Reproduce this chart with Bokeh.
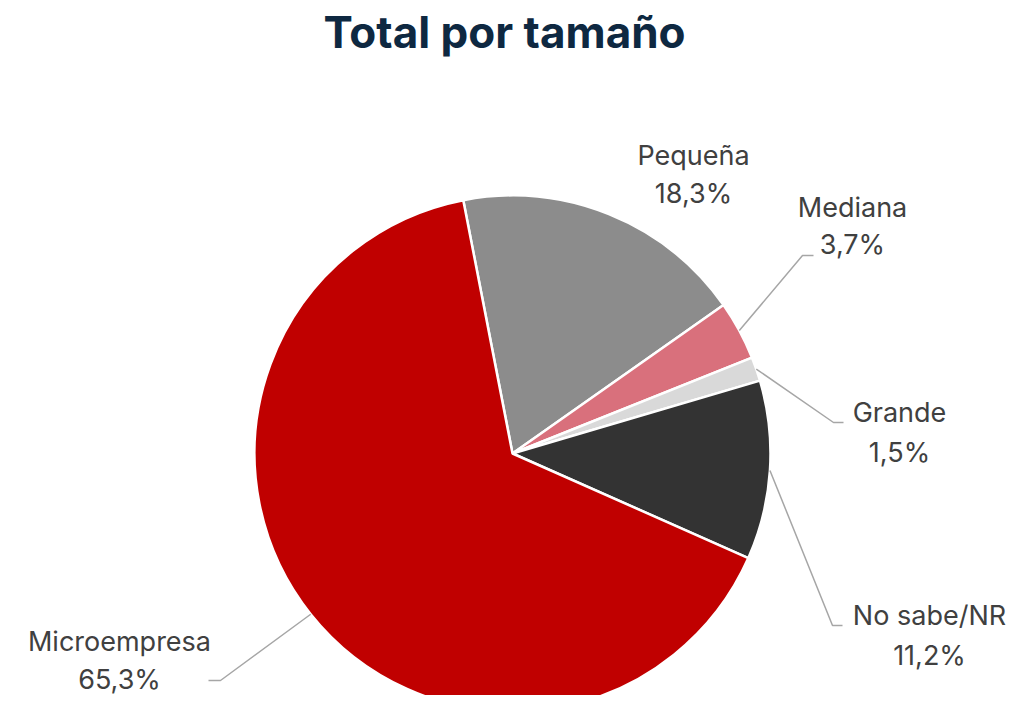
import math
from bokeh.plotting import figure
from bokeh.models import Range1d
from bokeh.core.properties import value
from bokeh.embed import file_html
from bokeh.resources import INLINE

# ---- data ----
categories = ["Pequeña", "Mediana", "Grande", "No sabe/NR", "Microempresa"]
shares = [18.3, 3.7, 1.5, 11.2, 65.3]
colors = ["#8c8c8c", "#d9707c", "#d9d9d9", "#333333", "#c00000"]
title_text = "Total por tamaño"

# ---- layout (screen-pixel coordinates, converted below) ----
W, H = 1011, 695
CX, CY, R = 512, 453, 258
START_CW = -11.0  # degrees clockwise from 12 o'clock
# label centre (x, y of first line, y of second line) and leader elbow / end points
label_pos = [(693, 155, 193), (852, 207, 244), (899, 412, 452), (929, 615, 655), (119, 641, 679)]
leaders = [None, ((802, 255), (813, 255)), ((833, 422), (843, 422)),
           ((832, 625), (842, 625)), ((220, 680), (208, 680))]


def sy(y):
    return 711 - y


p = figure(width=W, height=H, output_backend="svg", toolbar_location=None,
           x_range=Range1d(0, W), y_range=Range1d(711 - H, 711),
           min_border=0)
p.axis.visible = False
p.xgrid.visible = False
p.ygrid.visible = False
p.outline_line_color = None
p.background_fill_color = "white"

total = sum(shares)
cum = START_CW
mids = []
for cat, s, c in zip(categories, shares, colors):
    a0 = cum
    a1 = cum + s / total * 360.0
    cum = a1
    mids.append((a0 + a1) / 2)
    start = math.radians(90 - a1)
    end = math.radians(90 - a0)
    p.wedge(x=[CX], y=[sy(CY)], radius=R, start_angle=start, end_angle=end,
            fill_color=c, line_color="white", line_width=2.5)

font = value("Inter")
for i, (cat, s) in enumerate(zip(categories, shares)):
    lx, ly1, ly2 = label_pos[i]
    pct = f"{s:.1f}".replace(".", ",") + "%"
    p.text(x=[lx, lx], y=[sy(ly1), sy(ly2)], text=[cat, pct],
           text_align="center", text_baseline="middle",
           text_font=font, text_font_size="27px", text_color="#404040")
    if leaders[i] is not None:
        m = math.radians(mids[i])
        x0 = CX + R * math.sin(m)
        y0 = CY - R * math.cos(m)
        (ex, ey), (tx, ty) = leaders[i]
        p.line(x=[x0, ex, tx], y=[sy(y0), sy(ey), sy(ty)],
               line_color="#a6a6a6", line_width=1.5)

p.text(x=[504], y=[sy(31)], text=[title_text], text_align="center",
       text_baseline="middle", text_font=value("Inter"), text_font_style="bold",
       text_font_size="44px", text_color="#0e2841")

open("out.html", "w").write(file_html(p, INLINE))
